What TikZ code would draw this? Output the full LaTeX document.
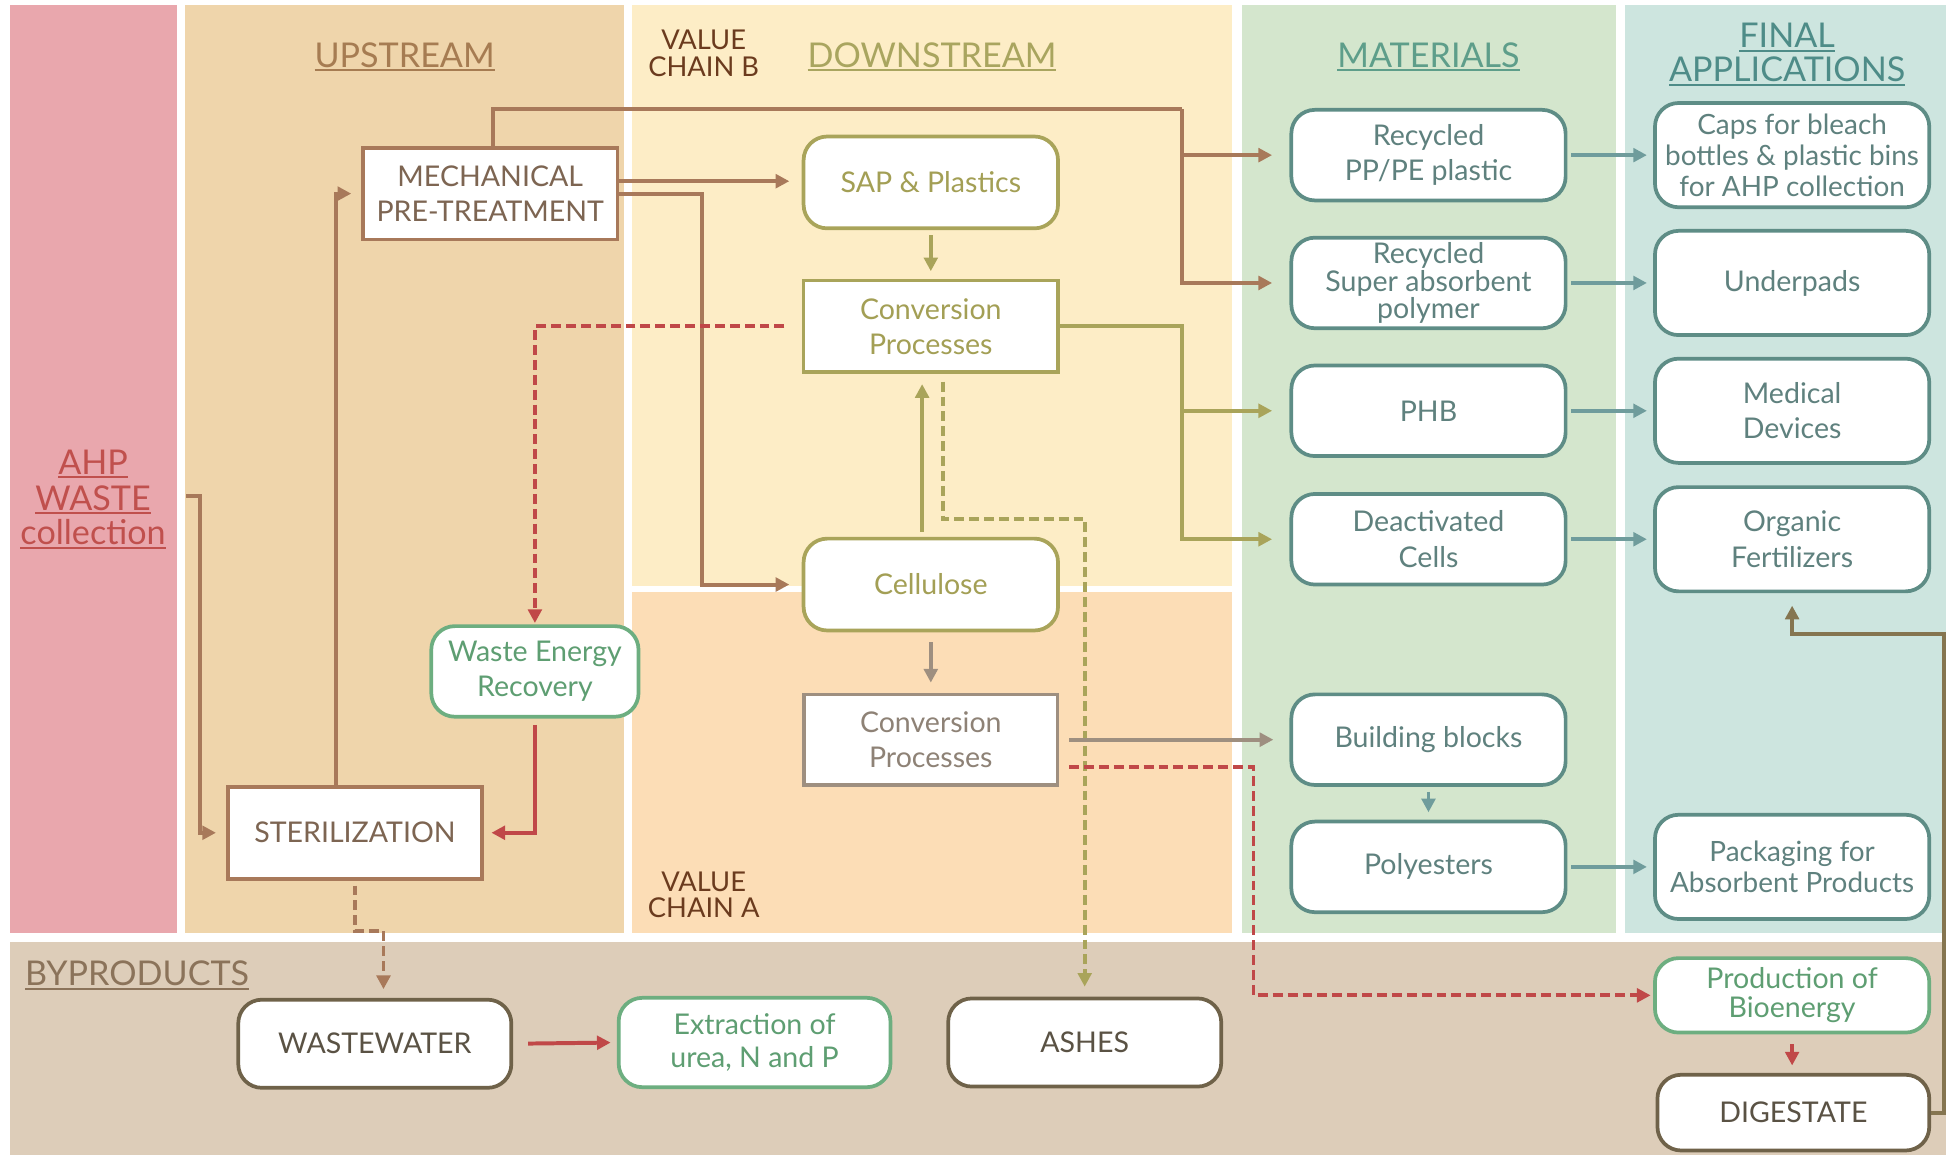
\documentclass[tikz,border=0pt]{standalone}
\usepackage{fontspec}
\setmainfont{Lato}
\usetikzlibrary{arrows.meta}

% band fills
\definecolor{bandAHP}{HTML}{E9A7AD}
\definecolor{bandUp}{HTML}{EFD5AB}
\definecolor{bandDownB}{HTML}{FDEDC6}
\definecolor{bandDownA}{HTML}{FCDDB6}
\definecolor{bandMat}{HTML}{D4E6CD}
\definecolor{bandFin}{HTML}{CDE5DF}
\definecolor{bandBy}{HTML}{DDCDB9}
% heading colours
\definecolor{hUp}{HTML}{A67C52}
\definecolor{hDown}{HTML}{A9A55F}
\definecolor{hMat}{HTML}{5E9E8A}
\definecolor{hFin}{HTML}{4E8C88}
\definecolor{hAHP}{HTML}{C0504D}
\definecolor{hBy}{HTML}{8B735A}
\definecolor{hChain}{HTML}{6B3B1E}
% boxes and connectors
\definecolor{brownL}{HTML}{A8795A}
\definecolor{brownT}{HTML}{7D6552}
\definecolor{oliveL}{HTML}{A9A45A}
\definecolor{oliveT}{HTML}{A39F55}
\definecolor{greyL}{HTML}{9E8F80}
\definecolor{greyT}{HTML}{8E8276}
\definecolor{greenL}{HTML}{6DAE80}
\definecolor{greenT}{HTML}{5E9E72}
\definecolor{tealL}{HTML}{5E8D86}
\definecolor{tealT}{HTML}{5F817E}
\definecolor{tealA}{HTML}{6F9C9C}
\definecolor{darkL}{HTML}{6F6249}
\definecolor{darkT}{HTML}{5A5244}
\definecolor{redL}{HTML}{C04848}
\definecolor{digL}{HTML}{857550}

\newcommand\boxfont{\fontsize{23}{28.5}\selectfont}
\newcommand\hdrfont{\fontsize{27.5}{28}\selectfont}
\newcommand\chainfont{\fontsize{22}{22}\selectfont}
\newcommand\ulword[1]{\setbox0=\hbox{#1}\rlap{\rule[-3.5pt]{\wd0}{1.6pt}}\box0}

\tikzset{
  basebox/.style={draw, line width=3pt, fill=white, align=center,
    inner sep=1pt, font=\boxfont},
  rnd/.style={rounded corners=19pt},
  brownbox/.style={basebox, draw=brownL, text=brownT,
    minimum width=205pt, minimum height=74pt},
  olivebox/.style={basebox, draw=oliveL, text=oliveT,
    minimum width=205pt, minimum height=74pt},
  greybox/.style={basebox, draw=greyL, text=greyT,
    minimum width=204pt, minimum height=73pt},
  greenbox/.style={basebox, rnd, draw=greenL, text=greenT},
  matbox/.style={basebox, rnd, draw=tealL, text=tealT,
    minimum width=221pt, minimum height=73pt},
  finbox/.style={basebox, rnd, draw=tealL, text=tealT,
    minimum width=221pt, minimum height=84pt},
  darkbox/.style={basebox, rnd, draw=darkL, text=darkT,
    minimum width=220pt, minimum height=71pt},
  hdr/.style={inner sep=0pt, anchor=base, font=\hdrfont},
  chain/.style={inner sep=0pt, anchor=base, font=\chainfont, text=hChain},
  tip/.style={-{Triangle[length=11pt,width=11pt]}},
  conn/.style={line width=3.2pt, tip},
  brownarr/.style={conn, draw=brownL},
  olivearr/.style={conn, draw=oliveL},
  greyarr/.style={conn, draw=greyL},
  redarr/.style={conn, draw=redL},
  tealarr/.style={conn, draw=tealA},
  digarr/.style={conn, draw=digL},
  dashes/.style={dash pattern=on 8pt off 4pt},
  reddash/.style={redarr, dashes},
  olivedash/.style={olivearr, dashes},
  browndash/.style={brownarr, dashes},
}

\begin{document}
\begin{tikzpicture}[x=1pt,y=-1pt]
\fill[white] (0,0) rectangle (1568,931);
\useasboundingbox (0,0) rectangle (1568,931);

% column bands
\fill[bandAHP]   (8,4)    rectangle (143,752);
\fill[bandUp]    (149,4)  rectangle (503,752);
\fill[bandDownB] (509,4)  rectangle (993,472);
\fill[bandDownA] (509,477) rectangle (993,752);
\fill[bandMat]   (1001,4) rectangle (1302,752);
\fill[bandFin]   (1309,4) rectangle (1568,752);
\fill[bandBy]    (8,759)  rectangle (1568,931);

% headings
\node[hdr, text=hUp]   (hup)  at (326,54) {\ulword{UPSTREAM}};
\node[hdr, text=hDown] (hdown) at (751,54) {\ulword{DOWNSTREAM}};
\node[hdr, text=hMat]  (hmat) at (1151,54) {\ulword{MATERIALS}};
\node[hdr, text=hFin]  (hfin1) at (1440,38) {\ulword{FINAL}};
\node[hdr, text=hFin]  (hfin2) at (1440,66) {\ulword{APPLICATIONS}};
\node[hdr, text=hAHP]  (ahp1) at (75,382) {\ulword{AHP}};
\node[hdr, text=hAHP]  (ahp2) at (75,411) {\ulword{WASTE}};
\node[hdr, text=hAHP]  (ahp3) at (75,439) {\ulword{collection}};
\node[hdr, text=hBy, anchor=base west] (hby) at (20,794) {\ulword{BYPRODUCTS}};
\node[chain] (vcb1) at (567,40)  {VALUE};
\node[chain] (vcb2) at (567,62)  {CHAIN B};
\node[chain] (vca1) at (567,718) {VALUE};
\node[chain] (vca2) at (567,739) {CHAIN A};

% upstream
\node[brownbox] (mech)    at (395,156) {MECHANICAL\\PRE-TREATMENT};
\node[brownbox] (sterile) at (286,671) {STERILIZATION};
\node[greenbox, minimum width=167pt, minimum height=73pt] (wer) at (431,541) {Waste Energy\\Recovery};

% downstream
\node[olivebox, rnd] (sap)   at (750,147) {SAP \& Plastics};
\node[olivebox]      (convb) at (750,263) {Conversion\\Processes};
\node[olivebox, rnd] (cell)  at (750,471) {Cellulose};
\node[greybox]       (conva) at (750,596) {Conversion\\Processes};

% materials
\node[matbox] (pp)    at (1151,125) {Recycled\\PP/PE plastic};
\node[matbox, font=\fontsize{23}{22.5}\selectfont] (sapm) at (1151,228) {Recycled\\Super absorbent\\polymer};
\node[matbox] (phb)   at (1151,331) {PHB};
\node[matbox] (cells) at (1151,434.5) {Deactivated\\Cells};
\node[matbox] (bb)    at (1151,596) {Building blocks};
\node[matbox] (poly)  at (1151,698.5) {Polyesters};

% final applications
\node[finbox, font=\fontsize{22.5}{25}\selectfont] (caps) at (1444,125) {Caps for bleach\\bottles \& plastic bins\\for AHP collection};
\node[finbox] (under) at (1444,228) {Underpads};
\node[finbox] (med)   at (1444,331) {Medical\\Devices};
\node[finbox] (fert)  at (1444,434.5) {Organic\\Fertilizers};
\node[finbox, font=\fontsize{22.5}{25}\selectfont] (pack) at (1444,698.5) {Packaging for\\Absorbent Products};

% byproducts
\node[darkbox] (ww)  at (302,841) {WASTEWATER};
\node[greenbox, minimum width=219pt, minimum height=72pt, font=\fontsize{23}{26}\selectfont] (ext) at (608,840) {Extraction of\\urea, N and P};
\node[darkbox] (ash) at (874,840) {ASHES};
\node[greenbox, minimum width=221pt, minimum height=60pt, font=\fontsize{23}{23}\selectfont] (bio) at (1444,802) {Production of\\Bioenergy};
\node[darkbox, minimum width=219pt, minimum height=61pt] (dig) at (1445,896.5) {DIGESTATE};

% turning points
\coordinate (ahpout) at (150,400);
\coordinate (ahpbend) at (161,400);
\coordinate (topbend) at (952,88);
\coordinate (cellbend) at (565.5,156);
\coordinate (convbend) at (952,263);
\coordinate (ashbend) at (759.5,418);
\coordinate (biobend) at (1010,618);
\coordinate (wwbend) at (309,750);
\coordinate (digbend) at (1566,896.5);
\coordinate (fertbend) at (1566,511);
\coordinate (m1) at ([yshift=10pt]mech.east);

% upstream flows
\draw[brownarr, shorten >=8pt] (ahpout) -- (ahpbend) |- (sterile.west);
\draw[brownarr, shorten >=8pt] ([xshift=-15pt]sterile.north) |- (mech.west);
\draw[line width=3.2pt, draw=brownL] ([xshift=2pt]mech.north) |- (topbend);
\draw[brownarr, shorten >=14pt] (topbend) |- (pp.west);
\draw[brownarr, shorten >=14pt] (topbend) |- (sapm.west);
\draw[brownarr, shorten >=10pt] (m1) -- (m1 -| sap.west);
\draw[brownarr, shorten >=10pt] (mech.east) -- (cellbend) |- (cell.west);
\draw[redarr, shorten <=5pt, shorten >=6pt] (wer.south) |- (sterile.east);
\draw[browndash, shorten <=4pt, shorten >=7pt] (sterile.south) |- (wwbend) -- (wwbend |- ww.north);

% value chain B
\draw[olivearr, shorten <=4pt, shorten >=6pt] (sap.south) -- (convb.north);
\draw[olivearr, shorten >=14pt] (convb.east) -- (convbend) |- (phb.west);
\draw[olivearr, shorten >=14pt] (convbend) |- (cells.west);
\draw[olivearr, shorten <=4pt, shorten >=8pt] ([xshift=-7pt]cell.north) -- ([xshift=-7pt]convb.south);
\draw[reddash, shorten <=14pt, shorten >=1pt] (convb.west) -| (wer.north);
\draw[olivedash, shorten <=6pt, shorten >=8pt] ([xshift=9.5pt]convb.south) -- (ashbend) -| (ash.north);

% value chain A
\draw[greyarr, shorten <=8pt, shorten >=8pt] (cell.south) -- (conva.north);
\draw[greyarr, shorten <=8pt, shorten >=13pt] (conva.east) -- (bb.west);
\draw[reddash, shorten <=8pt, shorten >=2pt] ([yshift=-22pt]conva.east) -- (biobend) |- (bio.west);

% materials to applications
\draw[tealarr, shorten <=3pt, shorten >=5pt] (pp.east) -- (caps.west);
\draw[tealarr, shorten <=3pt, shorten >=5pt] (sapm.east) -- (under.west);
\draw[tealarr, shorten <=3pt, shorten >=5pt] (phb.east) -- (med.west);
\draw[tealarr, shorten <=3pt, shorten >=5pt] (cells.east) -- (fert.west);
\draw[tealarr, shorten <=3pt, shorten >=5pt] (poly.east) -- (pack.west);
\draw[tealarr, shorten <=4pt, shorten >=6pt] (bb.south) -- (poly.north);

% byproducts
\draw[redarr, shorten <=12pt, shorten >=5pt] (ww.east) -- (ext.west);
\draw[redarr, shorten <=8pt, shorten >=6pt] (bio.south) -- (bio.south |- dig.north);
\draw[digarr, shorten >=10pt] (dig.east) -- (digbend) -- (fertbend) -| (fert.south);
\end{tikzpicture}
\end{document}
